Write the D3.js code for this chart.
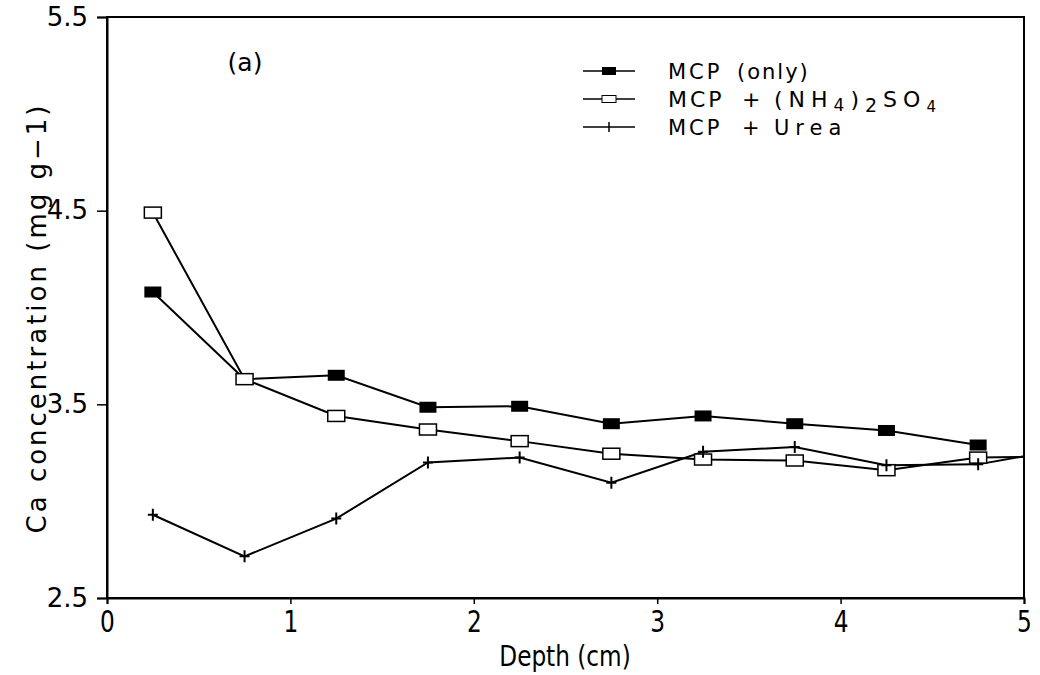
<!DOCTYPE html>
<html>
<head>
<meta charset="utf-8">
<script src="https://cdn.jsdelivr.net/npm/d3@7"></script>
<style>
  body { margin: 0; background: #fff; }
  text { font-family: "DejaVu Sans", sans-serif; fill: #000; white-space: pre; }
</style>
</head>
<body>
<svg width="1040" height="675"></svg>
<script>
// depth points (cm) and Ca concentrations
var depth = [0.25, 0.75, 1.25, 1.75, 2.25, 2.75, 3.25, 3.75, 4.25, 4.75, 5.0];
var mcpOnly = [4.08, 3.63, 3.65, 3.485, 3.49, 3.40, 3.44, 3.40, 3.365, 3.29];
var mcpAmmSulf = [4.49, 3.63, 3.44, 3.37, 3.31, 3.245, 3.215, 3.21, 3.16, 3.225, 3.228];
var mcpUrea = [2.93, 2.715, 2.91, 3.20, 3.225, 3.095, 3.255, 3.28, 3.185, 3.19, 3.232];
var xTicks = [0, 1, 2, 3, 4, 5];
var yTicks = [2.5, 3.5, 4.5, 5.5];
var seriesNames = ["MCP (only)", "MCP + (NH4)2SO4", "MCP + Urea"];

var svgWidth = 1040, svgHeight = 675;
var plotLeft = 107, plotRight = 1024, plotTop = 17, plotBottom = 598;

var svg = d3.select("svg");

// scales
var xScale = d3.scaleLinear().domain([0, 5]).range([plotLeft, plotRight]);
var yScale = d3.scaleLinear().domain([2.5, 5.5]).range([plotBottom, plotTop]);

// frame
svg.append("rect")
    .attr("x", plotLeft).attr("y", plotTop)
    .attr("width", plotRight - plotLeft).attr("height", plotBottom - plotTop)
    .attr("fill", "none").attr("stroke", "#000").attr("stroke-width", 2);

// axes
var x_axis = d3.axisBottom(xScale).tickValues(xTicks).tickFormat(d3.format("d")).tickSize(6).tickPadding(6);
var gx = svg.append("g").attr("transform", "translate(0," + plotBottom + ")").call(x_axis);
var y_axis = d3.axisLeft(yScale).tickValues(yTicks).tickFormat(d3.format(".1f")).tickSize(10).tickPadding(9);
var gy = svg.append("g").attr("transform", "translate(" + plotLeft + ",0)").call(y_axis);

[gx, gy].forEach(function (g) {
    g.select(".domain").attr("stroke-width", 2);
    g.selectAll(".tick line").attr("stroke-width", 1.5);
});
gy.selectAll(".tick text").attr("font-size", 26).attr("font-family", "DejaVu Sans, sans-serif");
// narrow, tall digits on the x axis
gx.selectAll(".tick text")
    .attr("font-size", 31)
    .attr("font-family", "Liberation Sans, sans-serif")
    .attr("transform", "scale(0.75,1)");

// axis titles
svg.append("text")
    .attr("transform", "translate(565,666) scale(0.8,1)")
    .attr("text-anchor", "middle").attr("font-size", 29)
    .attr("font-family", "Liberation Sans, sans-serif")
    .text("Depth (cm)");
svg.append("text")
    .attr("transform", "translate(46," + 318 + ") rotate(-90)")
    .attr("text-anchor", "middle").attr("font-size", 26)
    .attr("letter-spacing", 3)
    .text("Ca concentration (mg g\u22121)");

svg.append("text")
    .attr("x", 245).attr("y", 71)
    .attr("text-anchor", "middle").attr("font-size", 25)
    .text("(a)");

// clip so markers at the right border are cut off
svg.append("clipPath").attr("id", "plotclip")
    .append("rect").attr("x", plotLeft).attr("y", plotTop)
    .attr("width", plotRight - plotLeft).attr("height", plotBottom - plotTop);

var line = d3.line()
    .x(function (d) { return xScale(d[0]); })
    .y(function (d) { return yScale(d[1]); });

function pairs(vals) {
    return vals.map(function (v, i) { return [depth[i], v]; });
}

var series = [pairs(mcpOnly), pairs(mcpAmmSulf), pairs(mcpUrea)];

var plot = svg.append("g").attr("clip-path", "url(#plotclip)");

series.forEach(function (s) {
    plot.append("path")
        .datum(s)
        .attr("d", line)
        .attr("fill", "none")
        .attr("stroke", "#000")
        .attr("stroke-width", 2);
});

// filled squares
plot.selectAll(".mcp")
    .data(series[0])
    .enter()
    .append("rect")
    .attr("x", function (d) { return xScale(d[0]) - 8.5; })
    .attr("y", function (d) { return yScale(d[1]) - 5.5; })
    .attr("width", 17).attr("height", 11)
    .attr("fill", "#000");

// open squares
plot.selectAll(".amm")
    .data(series[1].filter(function (d) { return d[0] < 5; }))
    .enter()
    .append("rect")
    .attr("x", function (d) { return xScale(d[0]) - 8.5; })
    .attr("y", function (d) { return yScale(d[1]) - 5.5; })
    .attr("width", 17).attr("height", 11)
    .attr("fill", "#fff").attr("stroke", "#000").attr("stroke-width", 1.5);

// pluses
plot.selectAll(".urea")
    .data(series[2].filter(function (d) { return d[0] < 5; }))
    .enter()
    .append("path")
    .attr("d", function (d) {
        var cx = xScale(d[0]), cy = yScale(d[1]);
        return "M" + (cx - 5) + "," + cy + "H" + (cx + 5) + "M" + cx + "," + (cy - 6) + "V" + (cy + 6);
    })
    .attr("stroke", "#000").attr("stroke-width", 2);

// legend
var legendY = [71, 99, 127];
var legend = svg.selectAll(".legend")
    .data(seriesNames)
    .enter()
    .append("g")
    .attr("transform", function (d, i) { return "translate(583," + legendY[i] + ")"; });

legend.append("line")
    .attr("x1", 0).attr("x2", 52).attr("y1", 0).attr("y2", 0)
    .attr("stroke", "#000").attr("stroke-width", 1.5);

legend.filter(function (d, i) { return i === 0; })
    .append("rect").attr("x", 19).attr("y", -4).attr("width", 14).attr("height", 8).attr("fill", "#000");
legend.filter(function (d, i) { return i === 1; })
    .append("rect").attr("x", 19).attr("y", -3.5).attr("width", 14).attr("height", 7)
    .attr("fill", "#fff").attr("stroke", "#000").attr("stroke-width", 1);
legend.filter(function (d, i) { return i === 2; })
    .append("line").attr("x1", 26).attr("x2", 26).attr("y1", -5).attr("y2", 5)
    .attr("stroke", "#000").attr("stroke-width", 1.5);

var legendText = legend.append("text")
    .attr("y", 8)
    .attr("font-size", 21);

legendText.append("tspan").attr("x", 85).attr("letter-spacing", 3).text("MCP");
legendText.filter(function (d, i) { return i === 0; })
    .append("tspan").attr("x", 154).attr("letter-spacing", 2).text("(only)");
legendText.filter(function (d, i) { return i > 0; })
    .append("tspan").attr("x", 159).text("+");
legendText.filter(function (d, i) { return i === 2; })
    .append("tspan").attr("x", 191).attr("letter-spacing", 6).text("Urea");
var t2 = legendText.filter(function (d, i) { return i === 1; }).attr("font-size", 22);
t2.append("tspan").attr("x", 191).attr("letter-spacing", 6).text("(NH");
t2.append("tspan").attr("font-size", 17).attr("letter-spacing", 6).attr("dy", 4).text("4");
t2.append("tspan").attr("letter-spacing", 6).attr("dy", -4).text(")");
t2.append("tspan").attr("font-size", 19).attr("letter-spacing", 6).attr("dy", 5).text("2");
t2.append("tspan").attr("letter-spacing", 6).attr("dy", -5).text("SO");
t2.append("tspan").attr("font-size", 15).attr("dy", 5).text("4");
</script>
</body>
</html>
